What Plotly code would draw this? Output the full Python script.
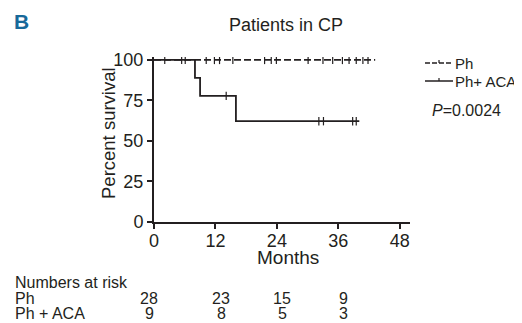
import plotly.graph_objects as go

# Kaplan-Meier step data
aca_t = [0, 8, 9, 16, 40.1]
aca_s = [100, 88.9, 77.8, 62.2, 62.2]
aca_cens_t = [14.1, 32.2, 33.1, 38.8, 39.5]
aca_cens_s = [77.8, 62.2, 62.2, 62.2, 62.2]

ph_t = [0, 43.2]
ph_s = [100, 100]
ph_cens_t = [2.1, 5.4, 6.1, 10.2, 11.8, 12.8, 15.4, 21.6, 22.9, 23.9, 30.1,
             33.0, 34.9, 36.8, 38.1, 39.5, 40.8, 41.8]
ph_cens_s = [100] * len(ph_cens_t)

x_ticks = [0, 12, 24, 36, 48]
y_ticks = [0, 25, 50, 75, 100]

series_names = ["Ph", "Ph+ ACA"]
risk_groups = ["Ph", "Ph + ACA"]
risk_ph = [28, 23, 15, 9]
risk_aca = [9, 8, 5, 3]

FONT = "Liberation Sans, Arial, sans-serif"
INK = "#231f20"

W, H = 522, 323
OFF = 8  # page body margin
# plot area in reference pixels: x 154..410, y 57..222
L, T = 154 - OFF, 57 - OFF
R, B = W - (410 - OFF), H - (222 - OFF)
pw, ph = W - L - R, H - T - B

def px(xp):
    return (xp - OFF - L) / pw

def py(yp):
    return (H - B - (yp - OFF)) / ph

fig = go.Figure()
fig.add_trace(go.Scatter(x=ph_t, y=ph_s, mode="lines", line=dict(color=INK, width=1.8, dash="7px,3px"),
                         showlegend=False, hoverinfo="skip"))
fig.add_trace(go.Scatter(x=aca_t, y=aca_s, mode="lines", line=dict(color=INK, width=1.8, shape="hv"),
                         showlegend=False, hoverinfo="skip"))
mk = dict(symbol="line-ns-open", size=6, color=INK, line=dict(color=INK, width=1.2))
fig.add_trace(go.Scatter(x=ph_cens_t, y=ph_cens_s, mode="markers", marker=mk, showlegend=False))
fig.add_trace(go.Scatter(x=aca_cens_t, y=aca_cens_s, mode="markers", marker=mk, showlegend=False))

ann = []
shapes = []
ann.append(dict(text="<b>B</b>", x=px(12), y=py(22), xref="paper", yref="paper", showarrow=False,
                xanchor="left", yanchor="middle",
                font=dict(family=FONT, size=21, color="#17699a")))
ann.append(dict(text="Patients in CP", x=px(286), y=py(25), xref="paper", yref="paper", showarrow=False,
                xanchor="center", yanchor="middle", font=dict(family=FONT, size=18, color=INK)))
# axis titles
ann.append(dict(text="Months", x=px(288), y=py(257), xref="paper", yref="paper", showarrow=False,
                xanchor="center", yanchor="middle", font=dict(family=FONT, size=19, color=INK)))
ann.append(dict(text="Percent survival", x=px(108), y=py(133), xref="paper", yref="paper", showarrow=False,
                textangle=-90, xanchor="center", yanchor="middle", font=dict(family=FONT, size=18.5, color=INK)))

# manual legend
leg_y = [63, 81]
leg_dash = ["5px,2px", "solid"]
for name, yy, dsh in zip(series_names, leg_y, leg_dash):
    shapes.append(dict(type="line", xref="paper", yref="paper", x0=px(425), x1=px(453), y0=py(yy), y1=py(yy),
                       line=dict(color=INK, width=1.5, dash=dsh)))
    shapes.append(dict(type="line", xref="paper", yref="paper", x0=px(439), x1=px(439), y0=py(yy), y1=py(yy - 3),
                       line=dict(color=INK, width=1.2)))
    ann.append(dict(text=name, x=px(453), y=py(yy), xref="paper", yref="paper", showarrow=False,
                    xanchor="left", yanchor="middle", font=dict(family=FONT, size=15, color=INK)))
ann.append(dict(text="<i>P</i>=0.0024", x=px(430), y=py(110), xref="paper", yref="paper", showarrow=False,
                xanchor="left", yanchor="middle", font=dict(family=FONT, size=16, color=INK)))

ann.append(dict(text="Numbers at risk", x=px(13), y=py(282), xref="paper", yref="paper", showarrow=False,
                xanchor="left", yanchor="middle", font=dict(family=FONT, size=16, color=INK)))
row_y = [298, 313]
col_x = [149, 221, 282, 343]
for gi, (g, vals) in enumerate(zip(risk_groups, [risk_ph, risk_aca])):
    ann.append(dict(text=g, x=px(13), y=py(row_y[gi]), xref="paper", yref="paper", showarrow=False,
                    xanchor="left", yanchor="middle", font=dict(family=FONT, size=16, color=INK)))
    for ci, v in enumerate(vals):
        ann.append(dict(text=str(v), x=px(col_x[ci]), y=py(row_y[gi]), xref="paper", yref="paper",
                        showarrow=False, xanchor="center", yanchor="middle",
                        font=dict(family=FONT, size=16, color=INK)))

fig.update_layout(
    width=W, height=H,
    margin=dict(l=L, r=R, t=T, b=B, pad=0),
    paper_bgcolor="white", plot_bgcolor="white",
    font=dict(family=FONT, color=INK),
    annotations=ann, shapes=shapes,
    showlegend=False,
    xaxis=dict(range=[0, 50], tickvals=x_ticks, ticks="outside", ticklen=5, tickwidth=1.5, tickcolor=INK,
               showline=True, linecolor=INK, linewidth=2, showgrid=False, zeroline=False,
               ticklabelstandoff=-4,
               tickfont=dict(family=FONT, size=18, color=INK)),
    yaxis=dict(range=[0, 101.8], tickvals=y_ticks, ticks="outside", ticklen=5, tickwidth=1.5, tickcolor=INK,
               showline=True, linecolor=INK, linewidth=2, showgrid=False, zeroline=False,
               tickfont=dict(family=FONT, size=18, color=INK)),
)

fig.write_html("out.html")
